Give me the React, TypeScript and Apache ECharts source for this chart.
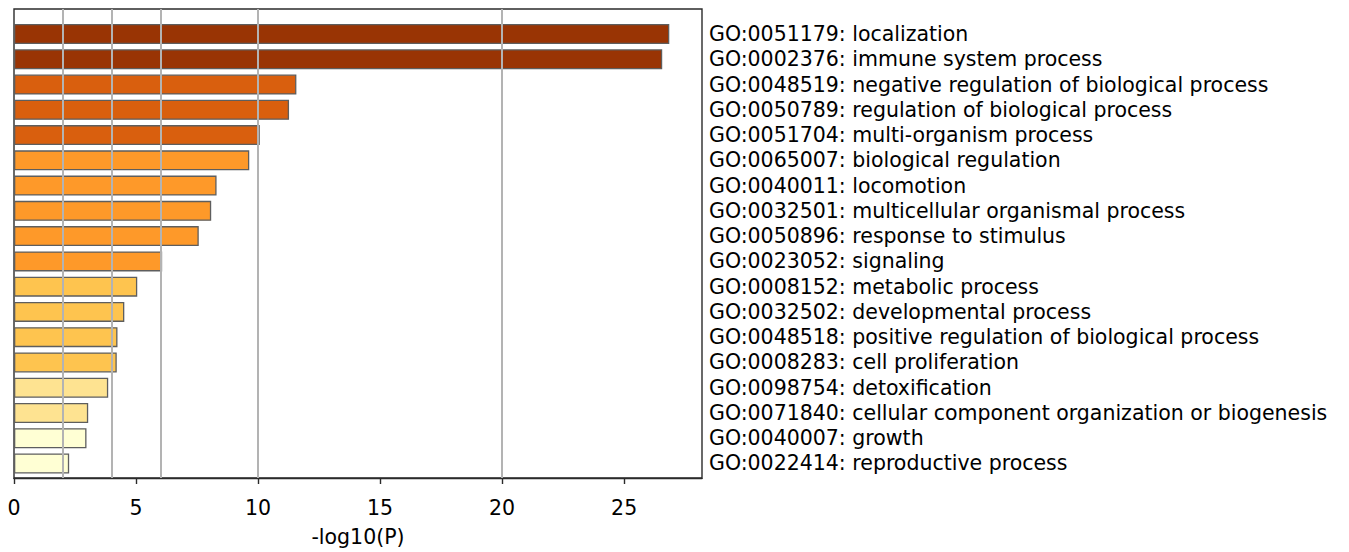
import React, { useEffect, useRef } from "react";
import * as echarts from "echarts";

const goIds = [
  "GO:0051179", "GO:0002376", "GO:0048519", "GO:0050789", "GO:0051704", "GO:0065007",
  "GO:0040011", "GO:0032501", "GO:0050896", "GO:0023052", "GO:0008152", "GO:0032502",
  "GO:0048518", "GO:0008283", "GO:0098754", "GO:0071840", "GO:0040007", "GO:0022414",
];
const terms = [
  "localization", "immune system process", "negative regulation of biological process",
  "regulation of biological process", "multi-organism process", "biological regulation",
  "locomotion", "multicellular organismal process", "response to stimulus", "signaling",
  "metabolic process", "developmental process", "positive regulation of biological process",
  "cell proliferation", "detoxification", "cellular component organization or biogenesis",
  "growth", "reproductive process",
];
const values = [
  26.85, 26.56, 11.57, 11.27, 10.07, 9.64, 8.3, 8.08, 7.57, 6.07, 5.05, 4.52, 4.24, 4.21,
  3.86, 3.04, 2.97, 2.26,
];
const refLines = [2, 4, 6, 10, 20];
const xMax = 28.19;

const binColor = (v: number) => {
  if (v >= 20) return "#993404";
  if (v >= 10) return "#d95f0e";
  if (v >= 6) return "#fe9929";
  if (v >= 4) return "#fec44f";
  if (v >= 3) return "#fee391";
  return "#ffffd4";
};

const FONT = "DejaVu Sans";

export default function App() {
  const ref = useRef<HTMLDivElement>(null);
  useEffect(() => {
    if (!ref.current) return;
    const chart = echarts.init(ref.current, null, { renderer: "svg" });
    const labels = goIds.map((id, i) => `${id}: ${terms[i]}`);
    chart.setOption({
      animation: false,
      backgroundColor: "#ffffff",
      textStyle: { fontFamily: FONT },
      grid: [
        {
          left: 14, top: 9, width: 688, height: 479,
          show: true, borderColor: "#2b2b2b", borderWidth: 1.4, backgroundColor: "transparent",
        },
        { left: 14, top: 21.4, width: 688, height: 454.7 },
      ],
      xAxis: [
        {
          type: "value", gridIndex: 0, min: 0, max: xMax, interval: 5,
          splitLine: { show: false },
          axisLine: { show: true, lineStyle: { color: "#2b2b2b", width: 1.4 } },
          axisTick: { show: true, length: 6, lineStyle: { color: "#2b2b2b", width: 1.4 } },
          axisLabel: {
            color: "#000", fontSize: 20.5, fontFamily: FONT, margin: 19,
            showMaxLabel: false,
            formatter: (v: number) => (v % 5 === 0 ? String(v) : ""),
          },
          name: "-log10(P)", nameLocation: "middle", nameGap: 48,
          nameTextStyle: { color: "#000", fontSize: 20.5, fontFamily: FONT },
        },
        {
          type: "value", gridIndex: 1, min: 0, max: xMax, show: false,
          splitLine: { show: false },
        },
      ],
      yAxis: [
        {
          type: "value", gridIndex: 0, min: 0, max: 1, show: false, splitLine: { show: false },
        },
        {
          type: "category", gridIndex: 1, inverse: true, position: "right", data: labels,
          axisLine: { show: false }, axisTick: { show: false }, splitLine: { show: false },
          axisLabel: {
            color: "#000", fontSize: 20.5, fontFamily: FONT, margin: 7, interval: 0,
            padding: [4, 0, 0, 0],
          },
        },
      ],
      series: [
        {
          type: "line", xAxisIndex: 0, yAxisIndex: 0, data: [], z: 1, silent: true,
          markLine: {
            silent: true, symbol: "none", label: { show: false },
            lineStyle: { color: "#b3b3b3", width: 2, type: "solid" },
            data: refLines.map((v) => ({ xAxis: v })),
          },
        },
        {
          type: "bar", xAxisIndex: 1, yAxisIndex: 1, z: 3, barWidth: 20,
          data: values.map((v) => ({
            value: v,
            itemStyle: { color: binColor(v), borderColor: "#5e5e5e", borderWidth: 1.3 },
          })),
        },
      ],
    });
    return () => chart.dispose();
  }, []);
  return (
    <div
      ref={ref}
      style={{ position: "fixed", left: 0, top: 0, width: 1349, height: 552, background: "#fff" }}
    />
  );
}
